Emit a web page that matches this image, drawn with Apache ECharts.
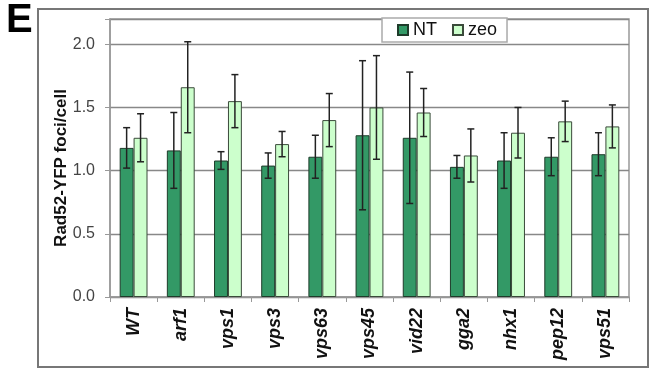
<!DOCTYPE html>
<html>
<head>
<meta charset="utf-8">
<script src="https://cdn.jsdelivr.net/npm/echarts@6/dist/echarts.min.js"></script>
<style>
  html, body { margin: 0; padding: 0; background: #fff; }
  #chart { width: 654px; height: 370px; }
</style>
</head>
<body>
<div id="chart"></div>
<script>
// Strains on the x axis
const strains = ['WT', 'arf1', 'vps1', 'vps3', 'vps63', 'vps45', 'vid22', 'gga2', 'nhx1', 'pep12', 'vps51'];
// Mean Rad52-YFP foci per cell, untreated
const ntMean = [1.18, 1.16, 1.08, 1.04, 1.11, 1.28, 1.26, 1.03, 1.08, 1.11, 1.13];
const ntErr  = [0.16, 0.30, 0.07, 0.10, 0.17, 0.59, 0.52, 0.09, 0.22, 0.15, 0.17];
// Mean Rad52-YFP foci per cell, zeocin treated
const zeoMean = [1.26, 1.66, 1.55, 1.21, 1.40, 1.50, 1.46, 1.12, 1.30, 1.39, 1.35];
const zeoErr  = [0.19, 0.36, 0.21, 0.10, 0.21, 0.41, 0.19, 0.21, 0.20, 0.16, 0.17];
// Value axis ticks
const yTicks = [0, 0.5, 1.0, 1.5, 2.0];

const CAT_GAP = 0.41;
const NT_COLOR = '#339966';
const ZEO_COLOR = '#ccffcc';
const FONT = 'Liberation Sans, Arial, sans-serif';

// Whisker renderer: side = -1 for the left bar of a pair, +1 for the right one
function errorBars(side) {
  return function (params, api) {
    const idx = api.value(0);
    const lo = api.coord([idx, api.value(1)]);
    const hi = api.coord([idx, api.value(2)]);
    const band = api.size([1, 0])[0];
    const barW = band * (1 - CAT_GAP) / 2;
    const x = lo[0] + side * barW / 2;
    const cap = 3.5;
    const style = { stroke: '#222', lineWidth: 1.5 };
    return {
      type: 'group',
      children: [
        { type: 'line', shape: { x1: x, y1: hi[1], x2: x, y2: lo[1] }, style: style },
        { type: 'line', shape: { x1: x - cap, y1: hi[1], x2: x + cap, y2: hi[1] }, style: style },
        { type: 'line', shape: { x1: x - cap, y1: lo[1], x2: x + cap, y2: lo[1] }, style: style }
      ]
    };
  };
}

function whiskerData(mean, err) {
  return mean.map((m, i) => [i, m - err[i], m + err[i]]);
}

const chart = echarts.init(document.getElementById('chart'), null, { renderer: 'canvas' });

chart.setOption({
  animation: false,
  backgroundColor: '#fff',
  textStyle: { fontFamily: FONT },
  graphic: [
    {
      type: 'rect',
      shape: { x: 38, y: 9, width: 610, height: 358 },
      style: { fill: 'none', stroke: '#777', lineWidth: 2 },
      z: 0
    },
    {
      type: 'text',
      left: 6, top: 1,
      style: { text: 'E', font: 'bold 40px ' + FONT, fill: '#000' }
    },
    {
      type: 'text',
      x: 61, y: 168,
      rotation: Math.PI / 2,
      style: {
        text: 'Rad52-YFP foci/cell',
        font: 'bold 17px ' + FONT,
        fill: '#111',
        align: 'center',
        verticalAlign: 'middle'
      }
    }
  ],
  legend: {
    data: ['NT', 'zeo'],
    left: 382, top: 18,
    padding: [3, 10, 3, 15],
    backgroundColor: '#fff',
    borderColor: '#aaa',
    borderWidth: 1.5,
    itemWidth: 10, itemHeight: 10,
    itemGap: 15,
    icon: 'rect',
    z: 10,
    textStyle: { fontSize: 18, color: '#111', padding: [0, 0, 0, 0] }
  },
  grid: {
    left: 110, right: 25, top: 19, bottom: 73,
    show: true,
    borderColor: '#999',
    borderWidth: 1.5,
    backgroundColor: 'transparent'
  },
  xAxis: {
    type: 'category',
    data: strains,
    axisLine: { lineStyle: { color: '#999', width: 1.5 } },
    axisTick: { show: true, length: 5, lineStyle: { color: '#999' } },
    axisLabel: {
      rotate: 90,
      margin: 11,
      fontSize: 18,
      fontStyle: 'italic',
      fontWeight: 'bold',
      color: '#111'
    }
  },
  yAxis: {
    type: 'value',
    min: 0, max: 2.2, interval: 0.5,
    axisLine: { show: true, lineStyle: { color: '#999', width: 1.5 } },
    axisTick: { show: true, length: 5, lineStyle: { color: '#999' } },
    axisLabel: {
      margin: 15,
      fontSize: 16,
      color: '#444',
      formatter: v => (yTicks.indexOf(v) >= 0 ? v.toFixed(1) : '')
    },
    splitLine: { lineStyle: { color: '#888', width: 1.3 } }
  },
  series: [
    {
      name: 'NT',
      type: 'bar',
      data: ntMean,
      barGap: '0%',
      barCategoryGap: (CAT_GAP * 100) + '%',
      itemStyle: { color: NT_COLOR, borderColor: '#1e3b2a', borderWidth: 1 }
    },
    {
      name: 'zeo',
      type: 'bar',
      data: zeoMean,
      barGap: '0%',
      barCategoryGap: (CAT_GAP * 100) + '%',
      itemStyle: { color: ZEO_COLOR, borderColor: '#3a4a3a', borderWidth: 1 }
    },
    {
      type: 'custom',
      renderItem: errorBars(-1),
      data: whiskerData(ntMean, ntErr),
      encode: { x: 0, y: [1, 2] },
      z: 5
    },
    {
      type: 'custom',
      renderItem: errorBars(1),
      data: whiskerData(zeoMean, zeoErr),
      encode: { x: 0, y: [1, 2] },
      z: 5
    }
  ]
});
</script>
</body>
</html>
